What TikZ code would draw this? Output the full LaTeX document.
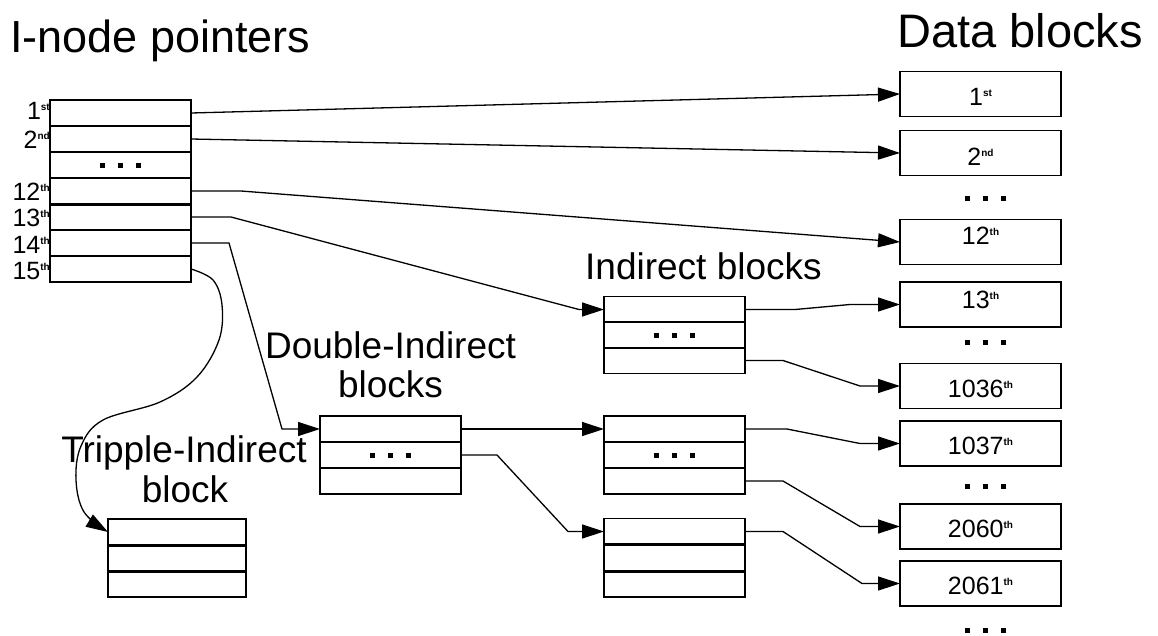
\documentclass[tikz,border=0pt]{standalone}
\usepackage{fontspec}
\setmainfont{Liberation Sans}
\usetikzlibrary{arrows.meta,calc}
% three square "ellipsis" dots
\newcommand\blockdots{\rule{5pt}{5pt}\hspace{13pt}\rule{5pt}{5pt}\hspace{13pt}\rule{5pt}{5pt}}
% ordinal: number with a small raised suffix
\newcommand\ordnum[2]{#1\raisebox{9pt}{\fontsize{10}{10}\selectfont\bfseries #2}}
\begin{document}
\begin{tikzpicture}[x=1pt,y=-1pt,
  cell/.style={draw, line width=1.5pt, inner sep=0pt, outer sep=0pt,
    minimum width=141pt, minimum height=26pt},
  datablock/.style={draw, line width=1.5pt, inner sep=0pt, outer sep=0pt,
    minimum width=161pt, minimum height=45pt},
  sepline/.style={line width=3pt},
  conn/.style={line width=1.3pt, -{Triangle[length=22pt,width=14pt]}},
  rowlabel/.style={anchor=base east, inner sep=0pt, font=\fontsize{25}{25}\selectfont},
  blocklabel/.style={anchor=base, inner sep=0pt, font=\fontsize{25}{25}\selectfont},
  dotsnode/.style={inner sep=0pt},
  title/.style={inner sep=0pt, font=\fontsize{45}{45}\selectfont},
  caption/.style={inner sep=0pt, font=\fontsize{37}{37}\selectfont}]

\fill[white] (0,0) rectangle (1158,635);
\useasboundingbox (0,0) rectangle (1158,635);

% ---- titles
\node[title, anchor=base west] (tin) at (10,52) {I-node pointers};
\node[title, anchor=base west, font=\fontsize{47}{47}\selectfont] (tdata) at (897,47) {Data blocks};
\node[caption, anchor=base west] (tind) at (585,279) {Indirect blocks};
\node[caption, anchor=base] (tdbl1) at (390.5,358) {Double-Indirect};
\node[caption, anchor=base] (tdbl2) at (390.5,397) {blocks};
\node[caption, anchor=base] (ttri1) at (184,462) {Tripple-Indirect};
\node[caption, anchor=base] (ttri2) at (185,502) {block};

% ---- i-node pointer table
\node[cell] (r1)  at (120.5,113) {};
\node[cell] (r2)  at (120.5,139) {};
\node[cell] (r3)  at (120.5,165) {\blockdots};
\node[cell] (r12) at (120.5,191) {};
\node[cell] (r13) at (120.5,217) {};
\node[cell] (r14) at (120.5,243) {};
\node[cell] (r15) at (120.5,269) {};
\draw[sepline] (r12.south west) -- (r12.south east);

\node[rowlabel] (lr1)  at ($(r1.west)+(0,6)$)  {\ordnum{1}{st}};
\node[rowlabel] (lr2)  at ($(r2.west)+(0,9)$)  {\ordnum{2}{nd}};
\node[rowlabel] (lr12) at ($(r12.west)+(0,9)$) {\ordnum{12}{th}};
\node[rowlabel] (lr13) at ($(r13.west)+(0,9)$) {\ordnum{13}{th}};
\node[rowlabel] (lr14) at ($(r14.west)+(0,10)$) {\ordnum{14}{th}};
\node[rowlabel] (lr15) at ($(r15.west)+(0,10)$) {\ordnum{15}{th}};

% ---- data blocks
\node[datablock] (d1)    at (980.5,94)    {};
\node[datablock] (d2)    at (980.5,153)   {};
\node[datablock] (d12)   at (980.5,242)   {};
\node[datablock] (d13)   at (980.5,304.5) {};
\node[datablock] (d1036) at (980.5,386)   {};
\node[datablock] (d1037) at (980.5,443.5) {};
\node[datablock] (d2060) at (980.5,526.5) {};
\node[datablock] (d2061) at (980.5,583.5) {};

\node[blocklabel] (ld1)    at ($(d1.center)+(0,11)$)    {\ordnum{1}{st}};
\node[blocklabel] (ld2)    at ($(d2.center)+(0,12)$)    {\ordnum{2}{nd}};
\node[blocklabel] (ld12)   at ($(d12.center)+(0,2)$)    {\ordnum{12}{th}};
\node[blocklabel] (ld13)   at ($(d13.center)+(0,4)$)    {\ordnum{13}{th}};
\node[blocklabel] (ld1036) at ($(d1036.center)+(0,11)$) {\ordnum{1036}{th}};
\node[blocklabel] (ld1037) at ($(d1037.center)+(0,11)$) {\ordnum{1037}{th}};
\node[blocklabel] (ld2060) at ($(d2060.center)+(0,11)$) {\ordnum{2060}{th}};
\node[blocklabel] (ld2061) at ($(d2061.center)+(0,11)$) {\ordnum{2061}{th}};

\node[dotsnode] (dd1) at (985,198) {\blockdots};
\node[dotsnode] (dd2) at (985,342) {\blockdots};
\node[dotsnode] (dd3) at (985,486) {\blockdots};
\node[dotsnode] (dd4) at (985,630) {\blockdots};

% ---- indirect block
\node[cell] (ib1) at (674.5,309.5) {};
\node[cell] (ib2) at (674.5,335)   {\blockdots};
\node[cell] (ib3) at (674.5,360.5) {};

% ---- double-indirect block
\node[cell] (db1) at (390.5,429) {};
\node[cell] (db2) at (390.5,455) {\blockdots};
\node[cell] (db3) at (390.5,481) {};

% ---- second-level indirect blocks
\node[cell] (mb1) at (674.5,429) {};
\node[cell] (mb2) at (674.5,455) {\blockdots};
\node[cell] (mb3) at (674.5,481) {};

\node[cell] (lb1) at (674.5,531.5) {};
\node[cell] (lb2) at (674.5,558)   {};
\node[cell] (lb3) at (674.5,584)   {};
\draw[sepline] (lb1.south west) -- (lb1.south east);
\draw[sepline] (lb2.south west) -- (lb2.south east);

% ---- triple-indirect block
\node[cell, minimum width=138pt] (tb1) at (177,532) {};
\node[cell, minimum width=138pt] (tb2) at (177,558) {};
\node[cell, minimum width=138pt] (tb3) at (177,584) {};
\draw[sepline] (tb1.south west) -- (tb1.south east);
\draw[sepline] (tb2.south west) -- (tb2.south east);

% ---- pointers
\draw[conn] (r1.east) -- (d1.west);
\draw[conn] (r2.east) -- (d2.west);
\draw[conn] (r12.east) -- ++(50,0) -- (d12.west);
\draw[conn] (r13.east) -- ++(40,0) -- ($(ib1.west)+(-25,0)$) -- (ib1.west);
\draw[conn] (r14.east) -- ++(38,0) -- ($(db1.west)+(-38,0)$) -- (db1.west);
\draw[conn] plot[smooth, tension=0.6] coordinates {(r15.east) (213,280) (222,305) (219,340) (197,377) (160,402) (103,420) (81,446) (76,480) (84,512) (tb1.west)};

\draw[conn] (ib1.east) -- ++(50,0) -- ($(d13.west)+(-50,0)$) -- (d13.west);
\draw[conn] (ib3.east) -- ++(38,0) -- ($(d1036.west)+(-40,0)$) -- (d1036.west);

\draw[conn] (db1.east) -- (mb1.west);
\draw[conn] (db2.east) -- ++(36,0) -- ($(lb1.west)+(-36,0)$) -- (lb1.west);

\draw[conn] (mb1.east) -- ++(42,0) -- ($(d1037.west)+(-40,0)$) -- (d1037.west);
\draw[conn] (mb3.east) -- ++(38,0) -- ($(d2060.west)+(-40,0)$) -- (d2060.west);
\draw[conn] (lb1.east) -- ++(38,0) -- ($(d2061.west)+(-38,0)$) -- (d2061.west);
\end{tikzpicture}
\end{document}
